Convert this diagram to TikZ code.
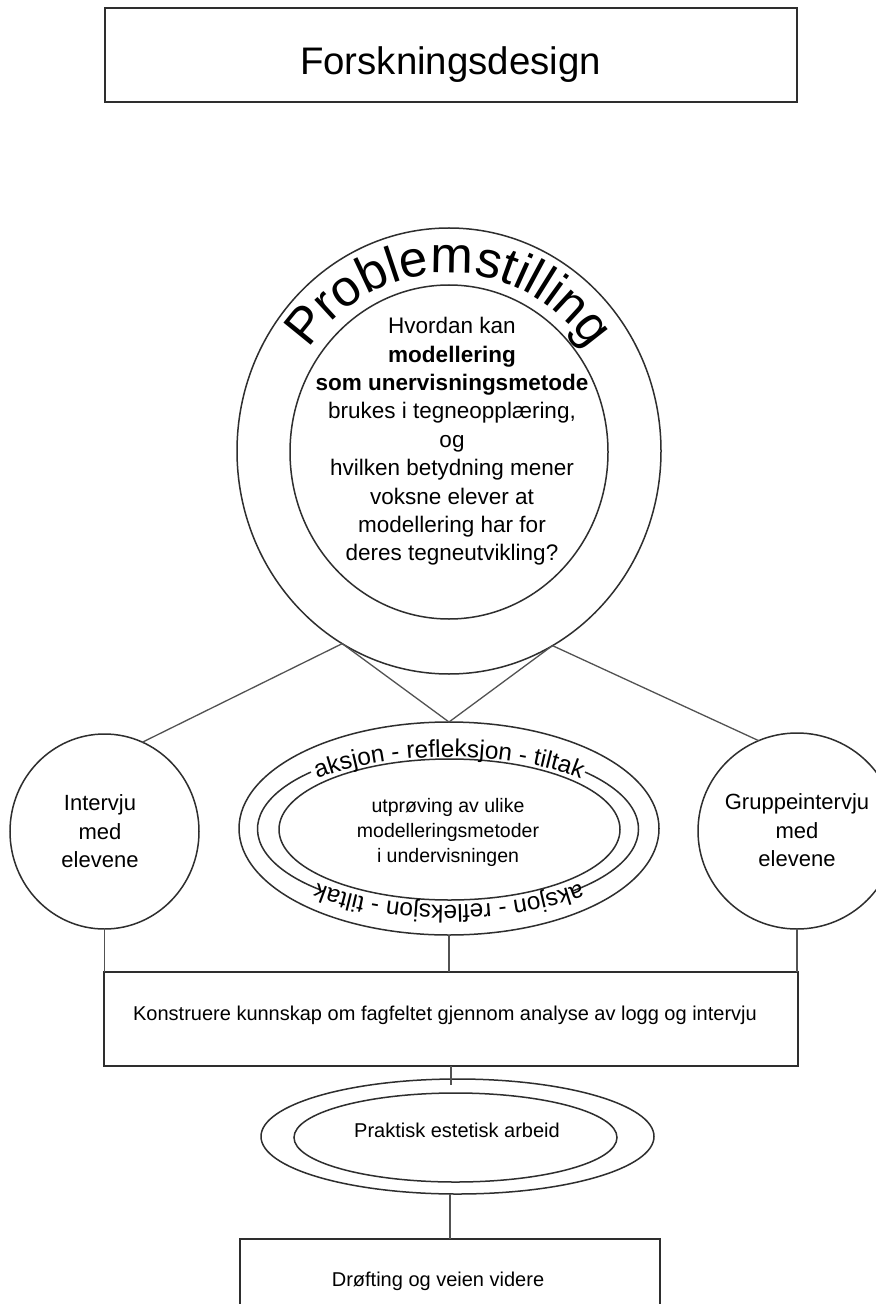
\documentclass[tikz,border=0pt]{standalone}
\usepackage{fontspec}
\setmainfont{Liberation Sans}
\usetikzlibrary{shapes.geometric,decorations.text,calc}
\definecolor{ln}{gray}{0.18}
\definecolor{cn}{gray}{0.32}
\begin{document}
\begin{tikzpicture}[x=0.5pt,y=-0.5pt,
  every node/.style={inner sep=0pt, outer sep=0pt},
  shp/.style={draw=ln, line width=0.75pt},
  conn/.style={draw=cn, line width=0.65pt},
  ell/.style={shp, ellipse},
  box/.style={shp, rectangle},
  txt/.style={align=center, text=black},
  arctext/.style={decorate, decoration={text along path, text align=center, text={#1}}}
]
\useasboundingbox (0,0) rectangle (876,1304);
\fill[white] (0,0) rectangle (876,1304);
\begin{scope}
\clip (0,0) rectangle (876,1304);

% title
\node[box, minimum width=346pt, minimum height=47pt] (title) at (451,55) {};
\node[anchor=base, font=\fontsize{19.2pt}{23pt}\selectfont] (titletxt) at (450.5,75) {Forskningsdesign};

% big circle
\node[ell, minimum width=212pt, minimum height=223pt] (big) at (449,451) {};
\node[ell, minimum width=159pt, minimum height=167pt] (bigin) at (449,452) {};
\coordinate (bc) at (449,451);
\path[arctext={|\fontsize{25.5pt}{25.5pt}\selectfont|Problemstilling}]
  ([shift={(165:85pt and 89pt)}]bc) arc[start angle=165, end angle=15, x radius=85pt, y radius=89pt];
\node[txt, font=\fontsize{11.25pt}{14.17pt}\selectfont] (q) at (452,441.5)
  {Hvordan kan\\\textbf{modellering}\\\textbf{som unervisningsmetode}\\brukes i tegneopplæring,\\og\\hvilken betydning mener\\voksne elever at\\modellering har for\\deres tegneutvikling?};

% side circles
\node[ell, minimum width=94.5pt, minimum height=97.5pt] (left) at (104.5,831.5) {};
\node[txt, font=\fontsize{11pt}{14.25pt}\selectfont] (lefttxt) at (100,831.6) {Intervju\\med\\elevene};
\node[ell, minimum width=99pt, minimum height=98pt] (right) at (797,831) {};
\node[txt, font=\fontsize{11pt}{14.25pt}\selectfont] (righttxt) at (797,830.5) {Gruppeintervju\\med\\elevene};

% aksjon ellipse
\node[ell, minimum width=210pt, minimum height=106.5pt] (aks) at (449,828.5) {};
\node[ell, minimum width=170.5pt, minimum height=70.5pt] (aksin) at (449.5,829.5) {};
\coordinate (ac) at (448,829);
\draw[shp] ([shift={(136:95.25pt and 41pt)}]ac) arc[start angle=136, end angle=228, x radius=95.25pt, y radius=41pt];
\draw[shp] ([shift={(-49:95.25pt and 41pt)}]ac) arc[start angle=-49, end angle=44, x radius=95.25pt, y radius=41pt];
\coordinate (at) at (449,831);
\path[arctext={|\fontsize{12.2pt}{12.2pt}\selectfont|aksjon - refleksjon - tiltak}]
  ([shift={(165:92.5pt and 37pt)}]at) arc[start angle=165, end angle=15, x radius=92.5pt, y radius=37pt];
\path[arctext={|\fontsize{12.2pt}{12.2pt}\selectfont|aksjon - refleksjon - tiltak}]
  ([shift={(-15:92.5pt and 37pt)}]at) arc[start angle=-15, end angle=-165, x radius=92.5pt, y radius=37pt];
\node[txt, font=\fontsize{9.75pt}{12.5pt}\selectfont] (akstxt) at (448,832) {utprøving av ulike\\modelleringsmetoder\\i undervisningen};

% Konstruere
\node[box, minimum width=347pt, minimum height=47pt] (kon) at (451,1019) {};
\node[anchor=base, font=\fontsize{10pt}{12pt}\selectfont] (kontxt) at (445,1020) {Konstruere kunnskap om fagfeltet gjennom analyse av logg og intervju};

% Praktisk
\node[ell, minimum width=196.5pt, minimum height=57.5pt] (pra) at (457.5,1136.5) {};
\node[ell, minimum width=161.5pt, minimum height=44.5pt] (prain) at (455.5,1137.5) {};
\node[anchor=base, font=\fontsize{10pt}{12pt}\selectfont] (pratxt) at (457,1137) {Praktisk estetisk arbeid};

% Drofting
\node[box, minimum width=210pt, minimum height=60pt] (dro) at (450,1299) {};
\node[anchor=base, font=\fontsize{10pt}{12pt}\selectfont] (drotxt) at (438,1286) {Drøfting og veien videre};

% connectors
\draw[conn] (big.241) -- (left.67);
\draw[conn] (big.298) -- (right.113);
\draw[conn] (big.241) -- (aks.north);
\draw[conn] (big.298) -- (aks.north);
\draw[conn] (left.south) -- (left.south |- kon.north);
\draw[conn] (aks.south) -- (aks.south |- kon.north);
\draw[conn] (right.south) -- (right.south |- kon.north);
\draw[conn] (kon.south) -- ($(kon.south |- pra.north)+(0,6)$);
\draw[conn] (dro.north |- pra.south) -- (dro.north);
\end{scope}
\end{tikzpicture}
\end{document}
